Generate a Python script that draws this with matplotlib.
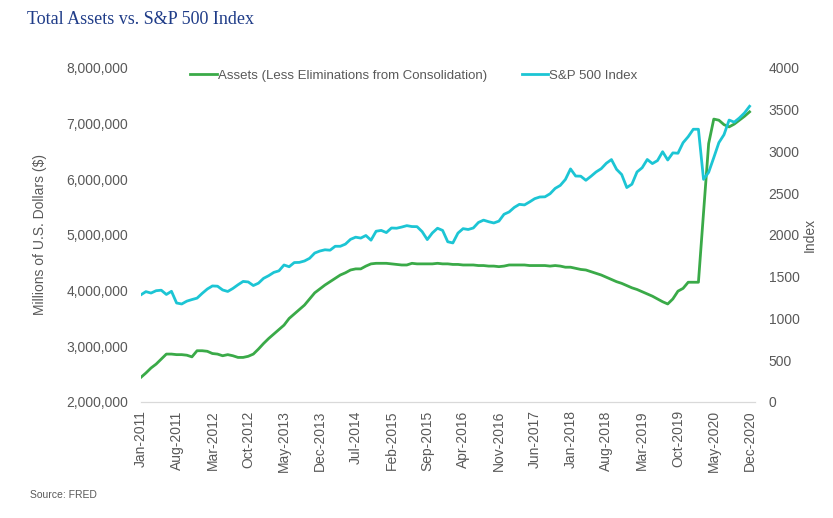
import numpy as np
import matplotlib.pyplot as plt
import pandas as pd

# monthly data, Jan-2011 .. Dec-2020
months = pd.date_range("2011-01-01", "2020-12-01", freq="MS")

assets_m = [
    2.44, 2.52, 2.61, 2.68, 2.77, 2.86, 2.86, 2.85, 2.85, 2.84, 2.81, 2.92,
    2.92, 2.91, 2.87, 2.86, 2.83, 2.85, 2.83, 2.80, 2.80, 2.82, 2.86, 2.95,
    3.05, 3.14, 3.22, 3.30, 3.38, 3.50, 3.58, 3.66, 3.74, 3.85, 3.96, 4.03,
    4.10, 4.16, 4.22, 4.28, 4.32, 4.37, 4.39, 4.39, 4.44, 4.48, 4.49, 4.49,
    4.49, 4.48, 4.47, 4.46, 4.46, 4.49, 4.48, 4.48, 4.48, 4.48, 4.49, 4.48,
    4.48, 4.47, 4.47, 4.46, 4.46, 4.46, 4.45, 4.45, 4.44, 4.44, 4.43, 4.44,
    4.46, 4.46, 4.46, 4.46, 4.45, 4.45, 4.45, 4.45, 4.44, 4.45, 4.44, 4.42,
    4.42, 4.40, 4.38, 4.37, 4.34, 4.31, 4.28, 4.24, 4.20, 4.16, 4.13, 4.09,
    4.05, 4.02, 3.98, 3.94, 3.90, 3.85, 3.80, 3.76, 3.85, 3.99, 4.04, 4.15,
    4.15, 4.15, 5.40, 6.64, 7.08, 7.06, 6.98, 6.94, 6.99, 7.06, 7.13, 7.21,
]
assets = np.array(assets_m) * 1e6

sp500 = [
    1282, 1321, 1304, 1332, 1338, 1287, 1325, 1185, 1173, 1207, 1226, 1243,
    1300, 1352, 1389, 1386, 1341, 1323, 1359, 1403, 1443, 1437, 1394, 1422,
    1480, 1512, 1551, 1570, 1640, 1619, 1669, 1671, 1688, 1720, 1783, 1807,
    1822, 1817, 1864, 1864, 1890, 1947, 1973, 1962, 1993, 1937, 2044, 2054,
    2028, 2083, 2080, 2094, 2111, 2100, 2099, 2039, 1944, 2024, 2080, 2054,
    1918, 1904, 2022, 2075, 2065, 2083, 2149, 2177, 2158, 2143, 2165, 2247,
    2275, 2329, 2366, 2359, 2395, 2434, 2454, 2456, 2493, 2557, 2593, 2664,
    2790, 2705, 2703, 2654, 2702, 2754, 2793, 2858, 2902, 2785, 2723, 2567,
    2607, 2754, 2804, 2903, 2854, 2890, 2996, 2897, 2982, 2978, 3104, 3176,
    3265, 3265, 2665, 2750, 2925, 3105, 3200, 3375, 3350, 3400, 3460, 3540,
]

labels = [m.strftime("%b-%Y") for m in months]
x = np.arange(len(months))

GREEN = "#3AAA48"
CYAN = "#1CC5D4"
GRAY = "#595959"

plt.rcParams['font.family'] = ['Liberation Sans', 'DejaVu Sans']

fig = plt.figure(figsize=(8.33, 5.18), dpi=100)
ax = fig.add_axes([0.169, 0.224, 0.737, 0.645])
ax2 = ax.twinx()

l1, = ax.plot(x, assets, color=GREEN, lw=2.0, label="Assets (Less Eliminations from Consolidation)")
l2, = ax2.plot(x, sp500, color=CYAN, lw=2.0, label="S&P 500 Index")

ax.set_xlim(0, 120)
ax.set_ylim(2e6, 8e6)
ax2.set_ylim(0, 4000)
ax.set_yticks(np.arange(2e6, 8.01e6, 1e6))
ax.set_yticklabels([f"{int(v):,}" for v in np.arange(2e6, 8.01e6, 1e6)])
ax2.set_yticks(np.arange(0, 4001, 500))

ax.set_xticks(x[::7])
ax.set_xticklabels(labels[::7], rotation=90)

for a in (ax, ax2):
    for s in ("top", "left", "right"):
        a.spines[s].set_visible(False)
    a.spines["bottom"].set_color("#D9D9D9")
    a.tick_params(length=0, colors=GRAY, labelsize=10)
ax.tick_params(axis="x", pad=6)
ax.tick_params(axis="y", pad=9)
ax2.tick_params(axis="y", pad=10)

ax.set_ylabel("Millions of U.S. Dollars ($)", color=GRAY, fontsize=10, labelpad=14)
ax2.set_ylabel("Index", color=GRAY, fontsize=10, labelpad=2)

ax2.legend([l1, l2], [l1.get_label(), l2.get_label()], loc="upper center",
           bbox_to_anchor=(0.445, 1.03), ncol=2, frameon=False, fontsize=9.5,
           handlelength=2.0, handletextpad=0.1, columnspacing=2.6, labelcolor=GRAY)

fig.text(0.032, 0.962, "Total Assets vs. S&P 500 Index", family=["Liberation Serif", "DejaVu Serif"],
         fontsize=13, color="#1F3C88", va="center", ha="left")
fig.text(0.036, 0.045, "Source: FRED", fontsize=7.5, color=GRAY, va="center", ha="left",
         family=["Liberation Sans Narrow", "Liberation Sans", "DejaVu Sans"])

fig.savefig("out.png", dpi=100)
